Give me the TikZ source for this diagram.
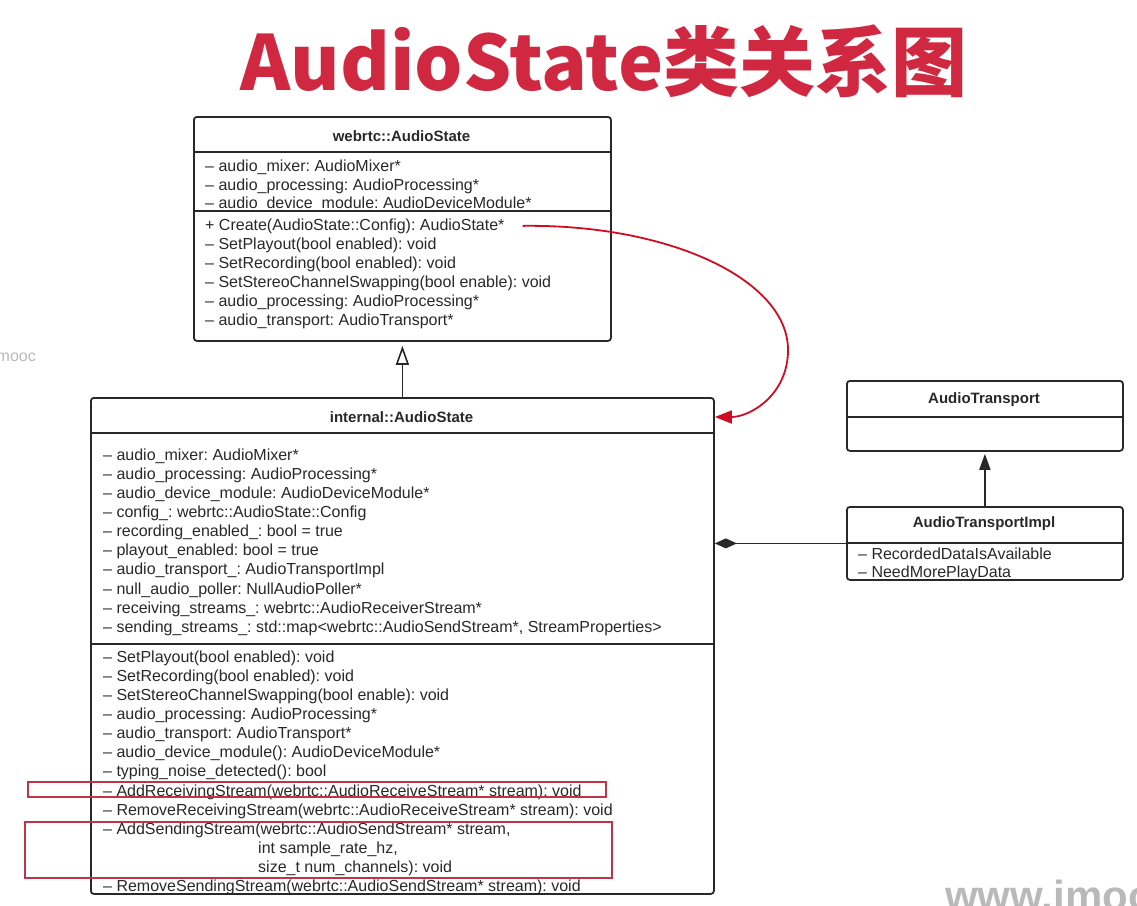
\documentclass[tikz,border=0pt]{standalone}
\usepackage{fontspec}
\setmainfont{Liberation Sans}
\newfontfamily\cjk{Noto Sans CJK SC}
\usetikzlibrary{positioning, arrows.meta, calc}

\definecolor{titlered}{RGB}{208,40,64}
\definecolor{linkred}{RGB}{206,12,36}
\definecolor{markred}{RGB}{190,52,72}
\definecolor{inkgray}{RGB}{40,40,40}

\begin{document}
\begin{tikzpicture}[
    x=1pt, y=-1pt,
    every node/.style={font=\frenchspacing\fontsize{16}{19}\selectfont, text=inkgray},
    umlbox/.style={draw=inkgray, line width=1.8pt, rounded corners=3pt, anchor=north west, inner sep=0pt},
    head/.style={font=\bfseries\fontsize{15}{18}\selectfont, inner sep=0pt},
    member/.style={anchor=base west, inner sep=0pt},
    divider/.style={draw=inkgray, line width=1.6pt},
    hilite/.style={draw=markred, line width=1.8pt},
    inherit/.style={-{Triangle[open, length=19pt, width=13pt, line width=1.6pt]}, line width=1.8pt, inkgray, shorten >=4pt},
    realize/.style={-{Triangle[length=16pt, width=11pt]}, line width=1.8pt, inkgray, shorten >=2pt},
    compose/.style={-{Diamond[length=22pt, width=10pt]}, line width=1.8pt, inkgray},
    linkarr/.style={-{Triangle[length=17pt, width=13pt]}, line width=1.8pt, linkred},
    wmark/.style={text=gray!55, inner sep=0pt},
]
\useasboundingbox (0,0) rectangle (1137,905);
\clip (0,0) rectangle (1137,905);

% ---------- title ----------
\node[anchor=base, inner sep=0pt, text=titlered, font=\cjk\bfseries\fontsize{76}{76}\selectfont] (title) at (604,90) {AudioState类关系图};

% ---------- webrtc::AudioState ----------
\node[umlbox, minimum width=417pt, minimum height=224pt] (webrtc) at (193,116) {};
\node[head] (wname) at (401.5,136) {webrtc::AudioState};
\draw[divider] (webrtc.west |- 0,152) -- (webrtc.east |- 0,152);
\draw[divider] (webrtc.west |- 0,211) -- (webrtc.east |- 0,211);
\foreach \txt [count=\i from 0] in {
    – audio\_mixer: AudioMixer*,
    – audio\_processing: AudioProcessing*,
    – audio\_device\_module: AudioDeviceModule*}
  \node[member] (wa\i) at (205,{171.3+18.8*\i}) {\txt};
\foreach \txt [count=\i from 0] in {
    + Create(AudioState::Config): AudioState*,
    – SetPlayout(bool enabled): void,
    – SetRecording(bool enabled): void,
    – SetStereoChannelSwapping(bool enable): void,
    – audio\_processing: AudioProcessing*,
    – audio\_transport: AudioTransport*}
  \node[member] (wm\i) at (205,{230+19*\i}) {\txt};

% ---------- internal::AudioState ----------
\node[umlbox, minimum width=623pt, minimum height=496pt] (internal) at (90,397) {};
\node[head] (iname) at (401.5,417) {internal::AudioState};
\draw[divider] (internal.west |- 0,433) -- (internal.east |- 0,433);
\draw[divider] (internal.west |- 0,644) -- (internal.east |- 0,644);
\foreach \txt [count=\i from 0] in {
    – audio\_mixer: AudioMixer*,
    – audio\_processing: AudioProcessing*,
    – audio\_device\_module: AudioDeviceModule*,
    – config\_: webrtc::AudioState::Config,
    – recording\_enabled\_: bool = true,
    – playout\_enabled: bool = true,
    – audio\_transport\_: AudioTransportImpl,
    – null\_audio\_poller: NullAudioPoller*,
    – receiving\_streams\_: webrtc::AudioReceiverStream*,
    {– sending\_streams\_: std::map<webrtc::AudioSendStream*, StreamProperties>}}
  \node[member] (ia\i) at (103,{460+19.15*\i}) {\txt};
\foreach \dx/\txt [count=\i from 0] in {
    0/– SetPlayout(bool enabled): void,
    0/– SetRecording(bool enabled): void,
    0/– SetStereoChannelSwapping(bool enable): void,
    0/– audio\_processing: AudioProcessing*,
    0/– audio\_transport: AudioTransport*,
    0/– audio\_device\_module(): AudioDeviceModule*,
    0/– typing\_noise\_detected(): bool,
    0/– AddReceivingStream(webrtc::AudioReceiveStream* stream): void,
    0/– RemoveReceivingStream(webrtc::AudioReceiveStream* stream): void,
    0/{– AddSendingStream(webrtc::AudioSendStream* stream,},
    155/{int sample\_rate\_hz,},
    155/size\_t num\_channels): void,
    0/– RemoveSendingStream(webrtc::AudioSendStream* stream): void}
  \node[member] (im\i) at ({103+\dx},{662.3+19.1*\i}) {\txt};

% red marks round the stream methods
\draw[hilite] (28,782) rectangle (606,797);
\draw[hilite] (25,822) rectangle (612,878);

% ---------- AudioTransport / AudioTransportImpl ----------
\node[umlbox, minimum width=276pt, minimum height=70pt] (transport) at (846,380) {};
\node[head] (tname) at (984,400) {AudioTransport};
\draw[divider] (transport.west |- 0,417) -- (transport.east |- 0,417);

\node[umlbox, minimum width=276pt, minimum height=73pt] (impl) at (846,506) {};
\node[head] (pname) at (984,524) {AudioTransportImpl};
\draw[divider] (impl.west |- 0,543) -- (impl.east |- 0,543);
\node[member] (pa0) at (858,559) {– RecordedDataIsAvailable};
\node[member] (pa1) at (858,577.5) {– NeedMorePlayData};

% ---------- relations ----------
\draw[inherit] (internal.north) -- (webrtc.south);
\draw[realize] (impl.north) -- (transport.south);
\draw[compose] (impl.west) -- (internal.east |- impl.west);

% Create() hands back the internal state
\coordinate (create-tail) at ($(wm0.east)+(18,0)$);
\draw[linkarr] (create-tail) .. controls (670,224) and (788,280) .. (788,350)
    .. controls (788,395) and (750,417) .. (internal.east |- iname);

% ---------- watermarks ----------
\node[wmark, anchor=base east] (mooc-left) at (36,361) {imooc};
\node[wmark, anchor=base west, font=\bfseries\fontsize{42}{42}\selectfont] (mooc-url) at (945,910) {www.imooc.com};

\end{tikzpicture}
\end{document}
